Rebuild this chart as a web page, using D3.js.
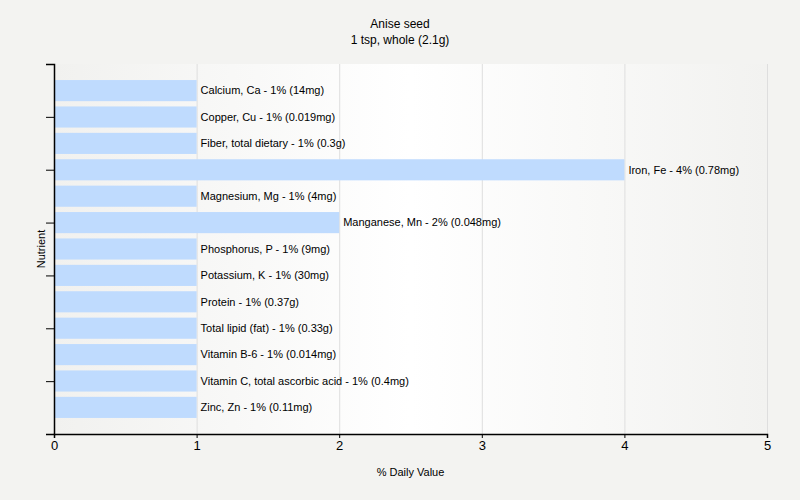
<!DOCTYPE html>
<html lang="en">
<head>
    <meta charset="UTF-8">
    <title>Anise seed - % Daily Value</title>
    <script src="https://d3js.org/d3.v7.min.js"></script>
    <style>
        body {
            margin: 0;
            background: #f3f3f1;
        }
        svg text {
            font-family: "Liberation Sans", Arial, sans-serif;
            fill: #000;
        }
        .grid line {
            stroke: #dedede;
        }
    </style>
</head>
<body>
<script>
    const nutrients = [
        "Calcium, Ca", "Copper, Cu", "Fiber, total dietary", "Iron, Fe",
        "Magnesium, Mg", "Manganese, Mn", "Phosphorus, P", "Potassium, K",
        "Protein", "Total lipid (fat)", "Vitamin B-6",
        "Vitamin C, total ascorbic acid", "Zinc, Zn"
    ];
    const percents = [1, 1, 1, 4, 1, 2, 1, 1, 1, 1, 1, 1, 1];
    const amounts = ["14mg", "0.019mg", "0.3g", "0.78mg", "4mg", "0.048mg", "9mg",
        "30mg", "0.37g", "0.33g", "0.014mg", "0.4mg", "0.11mg"];
    const xTicks = [0, 1, 2, 3, 4, 5];

    const data = nutrients.map((n, i) => ({ name: n, value: percents[i], amount: amounts[i] }));

    const width = 800, height = 500;
    const plotLeft = 54, plotRight = 767, plotTop = 64, plotBottom = 434;

    const svg = d3.select('body').append('svg')
        .attr('width', width)
        .attr('height', height);

    // plot background: grey at the edges, white in the middle
    const grad = svg.append('defs').append('linearGradient')
        .attr('id', 'bg').attr('x1', '0%').attr('x2', '100%');
    grad.append('stop').attr('offset', '0%').attr('stop-color', '#f1f1ef');
    grad.append('stop').attr('offset', '50%').attr('stop-color', '#ffffff');
    grad.append('stop').attr('offset', '100%').attr('stop-color', '#f2f2f0');

    svg.append('rect')
        .attr('x', plotLeft).attr('y', plotTop)
        .attr('width', plotRight - plotLeft).attr('height', plotBottom - plotTop)
        .attr('fill', 'url(#bg)');

    const x = d3.scaleLinear().domain([0, 5]).range([plotLeft, plotRight]);
    const y = d3.scaleBand().domain(nutrients)
        .range([plotTop + 13.4, plotBottom - 13.4])
        .paddingInner(0.2).paddingOuter(0.1);

    // vertical grid
    svg.append('g').attr('class', 'grid')
        .selectAll('line')
        .data(xTicks.slice(1))
        .enter().append('line')
        .attr('x1', d => x(d) + 0.5).attr('x2', d => x(d) + 0.5)
        .attr('y1', plotTop).attr('y2', plotBottom);

    svg.selectAll('.bar')
        .data(data)
        .enter().append('rect')
        .attr('class', 'bar')
        .attr('x', x(0))
        .attr('y', d => y(d.name))
        .attr('width', d => x(d.value) - x(0))
        .attr('height', y.bandwidth())
        .attr('fill', '#bfdbfe');

    svg.selectAll('.label')
        .data(data)
        .enter().append('text')
        .attr('class', 'label')
        .attr('x', d => x(d.value) + 4)
        .attr('y', d => y(d.name) + y.bandwidth() / 2)
        .attr('dy', '0.35em')
        .style('font-size', '11px')
        .text(d => `${d.name} - ${d.value}% (${d.amount})`);

    // x axis
    const xAxis = svg.append('g')
        .attr('transform', `translate(0,${plotBottom})`)
        .call(d3.axisBottom(x).tickValues(xTicks).tickFormat(d3.format('d')).tickSize(4).tickPadding(3));
    xAxis.select('.domain').attr('stroke', '#000').attr('stroke-width', 1.5);
    xAxis.selectAll('text').style('font-size', '13px').style('font-family', '"Liberation Sans", Arial, sans-serif');

    // y axis: plain line with evenly spaced ticks
    const yTickScale = d3.scaleLinear().domain([0, 7]).range([plotTop, plotBottom]);
    const yAxis = svg.append('g')
        .attr('transform', `translate(${plotLeft},0)`)
        .call(d3.axisLeft(yTickScale).ticks(7).tickSize(8).tickFormat(''));
    yAxis.select('.domain').attr('stroke', '#000').attr('stroke-width', 1.5);

    // titles
    svg.append('text')
        .attr('x', 400).attr('y', 28)
        .attr('text-anchor', 'middle')
        .style('font-size', '12px')
        .text('Anise seed');
    svg.append('text')
        .attr('x', 400).attr('y', 44)
        .attr('text-anchor', 'middle')
        .style('font-size', '12px')
        .text('1 tsp, whole (2.1g)');

    svg.append('text')
        .attr('x', (plotLeft + plotRight) / 2).attr('y', 476)
        .attr('text-anchor', 'middle')
        .style('font-size', '11px')
        .text('% Daily Value');

    svg.append('text')
        .attr('transform', `translate(45,${(plotTop + plotBottom) / 2}) rotate(-90)`)
        .attr('text-anchor', 'middle')
        .style('font-size', '11px')
        .text('Nutrient');
</script>
</body>
</html>
